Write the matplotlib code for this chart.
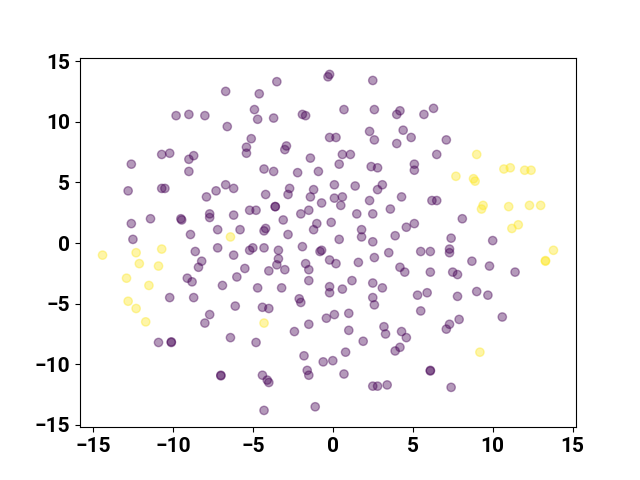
import numpy as np
import matplotlib
matplotlib.use('Agg')
import matplotlib.pyplot as plt

# class 0 points (purple)
x0 = [-6.7, -9.8, -9.0, -8.0, -6.6, -5.4, -5.4, -10.7, -10.2, -9.0, -8.7, -12.6, -9.0,
      -0.2, -0.3, -3.5, 2.5, -4.6, -4.9, -4.7, -3.7, -1.9, -1.7, 0.7, 2.6, 4.0, 4.2,
      -5.1, -0.2, 0.2, 2.3, 2.6, 4.4, 4.9, 4.0, -2.9, -3.0, -1.4, 0.6, 1.1, 0.4, 2.4, 2.8,
      5.1, 5.1, -4.3, -3.7, -2.2, -0.9, 6.3, 5.7, 7.1, 6.5,
      -12.8, -10.7, -10.5, -7.9, -7.3, -6.7, -6.2, -12.6, -11.4, -9.5, -9.45, -7.7, -7.7,
      -6.2, -7.2, -5.8, -8.9, -12.5, -8.6, -7.2, -6.2, -8.2, -8.4, -5.5, -6.0, -9.1, -8.8,
      -6.9, -10.2, -8.7,
      -2.7, -2.8, -4.2, -1.2, -1.4, 0.1, 1.4, 3.1, 2.8, 4.3, 0.1, 0.6, 0.5, -0.7, 2.3,
      -3.6, -3.6, -5.2, -4.8, -2.0, -1.5, 1.5, 2.5, 3.6, -3.1, -1.0, -1.2, -0.1, 1.8, 1.8,
      4.6, 5.1, -4.2, -4.3, -2.8, 0.4, 2.5, 3.9, -4.3, -5.2, -5.0, -1.9, -0.8, -0.7, -3.4,
      -3.4, -3.5, -3.0, -4.0, -1.7, -1.5, -0.2, 0.2, 1.6, 2.6, 3.5, 4.2, 4.5, -1.5, 1.2,
      2.5, 3.1, -4.7, -3.2, -0.2, -0.2, 0.6, -2.1, -2.0, 2.5, 2.6, 5.3,
      6.2, 6.5, 8.1, 7.4, 10.0, 5.5, 6.1, 7.3, 7.3, 8.7, 9.8, 6.1, 7.5, 7.8, 11.4, 5.9,
      7.8, 9.0, 9.7,
      -6.1, -7.7, -8.0, -6.4, -10.9, -10.1, -10.1, -7.0, -7.0,
      -4.4, -4.0, -4.8, -2.4, -1.5, -0.4, 0.1, 1.0, 1.0, 3.2, 3.3, 4.3, 4.6, 1.9, 0.8,
      3.9, 4.2, -1.8, -0.6, 0.0, -4.4, -4.1, -4.0, -1.6, -1.5, 0.7, 2.5, 2.8, 3.4, -4.3,
      -1.1,
      5.5, 7.3, 7.1, 7.9, 10.6, 6.1, 6.1, 7.4]
y0 = [12.5, 10.5, 10.6, 10.5, 9.6, 7.9, 7.4, 7.3, 7.4, 6.9, 7.2, 6.5, 5.9,
      13.9, 13.7, 13.3, 13.4, 12.3, 11.0, 10.2, 10.3, 10.6, 10.5, 11.0, 11.0, 10.6, 10.9,
      8.6, 8.7, 8.7, 9.2, 8.5, 9.3, 8.7, 8.2, 8.0, 7.7, 7.0, 7.3, 7.3, 6.5, 6.3, 6.2,
      6.5, 6.0, 6.1, 5.9, 5.8, 5.9, 11.1, 10.6, 8.5, 7.3,
      4.3, 4.5, 4.5, 3.8, 4.3, 4.8, 4.5, 1.6, 2.0, 2.0, 1.9, 2.4, 2.1,
      2.3, 1.1, 1.1, 0.7, 0.3, -0.7, -0.4, -1.0, -1.5, -2.0, -2.1, -2.8, -2.9, -3.2,
      -3.5, -4.5, -4.5,
      4.5, 4.0, 4.0, 4.4, 3.8, 4.8, 4.7, 4.8, 4.4, 3.8, 3.7, 3.8, 3.1, 3.3, 3.5,
      3.0, 3.0, 2.7, 2.7, 2.4, 2.7, 2.4, 2.4, 2.8, 1.9, 1.6, 1.1, 1.7, 1.1, 0.5,
      1.3, 1.6, 1.2, 1.0, 0.7, 0.3, 0.1, 0.6, -0.4, -0.6, -0.4, -0.3, -0.7, -0.6, -0.6,
      -1.3, -1.8, -2.2, -2.3, -1.7, -2.2, -1.4, -1.7, -1.6, -1.2, -0.8, -2.0, -2.4, -3.1, -3.1,
      -3.3, -3.7, -3.7, -3.7, -3.6, -4.1, -3.8, -4.6, -4.9, -4.5, -5.1, -4.3,
      3.5, 3.5, 2.0, 0.4, 0.2, -0.7, -0.7, -0.5, -0.8, -1.5, -1.9, -2.4, -2.4, -2.6, -2.4, -4.1,
      -4.4, -4.0, -4.3,
      -5.2, -5.9, -6.6, -7.8, -8.2, -8.2, -8.15, -10.9, -10.95,
      -5.3, -5.4, -8.2, -7.3, -6.7, -6.2, -5.9, -5.8, -7.2, -6.9, -7.5, -7.3, -7.8, -8.1, -9.0,
      -8.9, -8.6, -9.3, -9.8, -9.7, -10.9, -11.3, -11.5, -10.5, -10.9, -10.8, -11.8, -11.8,
      -11.7, -13.8, -13.5,
      -5.6, -6.7, -7.1, -6.3, -6.1, -10.5, -10.55, -11.9]

# class 1 points (yellow)
x1 = [9.0, 10.7, 11.1, 12.0, 12.4, 7.7, 8.8, 8.9, 9.4, 9.3, 11.0, 12.3, 13.0, 11.6,
      11.2, 13.8, 13.3, 13.3, -6.4, -14.4, -12.3, -10.7, -12.1, -10.9, -12.9, -11.5,
      -12.8, -12.3, -11.7, -4.3, 9.2]
y1 = [7.3, 6.1, 6.2, 6.0, 6.0, 5.5, 5.3, 5.1, 3.1, 2.8, 3.0, 3.1, 3.1, 1.5,
      1.2, -0.6, -1.5, -1.45, 0.5, -1.0, -0.8, -0.5, -1.7, -1.9, -2.9, -3.5,
      -4.8, -5.4, -6.5, -6.6, -9.0]

x = np.array(x0 + x1)
y = np.array(y0 + y1)
labels = np.array([0] * len(x0) + [1] * len(x1))

plt.rcParams['font.family'] = ['Roboto', 'DejaVu Sans']
plt.rcParams['font.weight'] = 'bold'

fig = plt.figure(figsize=(6.4, 4.8), dpi=100)
plt.scatter(x, y, c=labels, cmap='viridis', alpha=0.4)
plt.xticks(fontsize=15, fontweight='bold')
plt.yticks(fontsize=15, fontweight='bold')
plt.savefig('out.png')
